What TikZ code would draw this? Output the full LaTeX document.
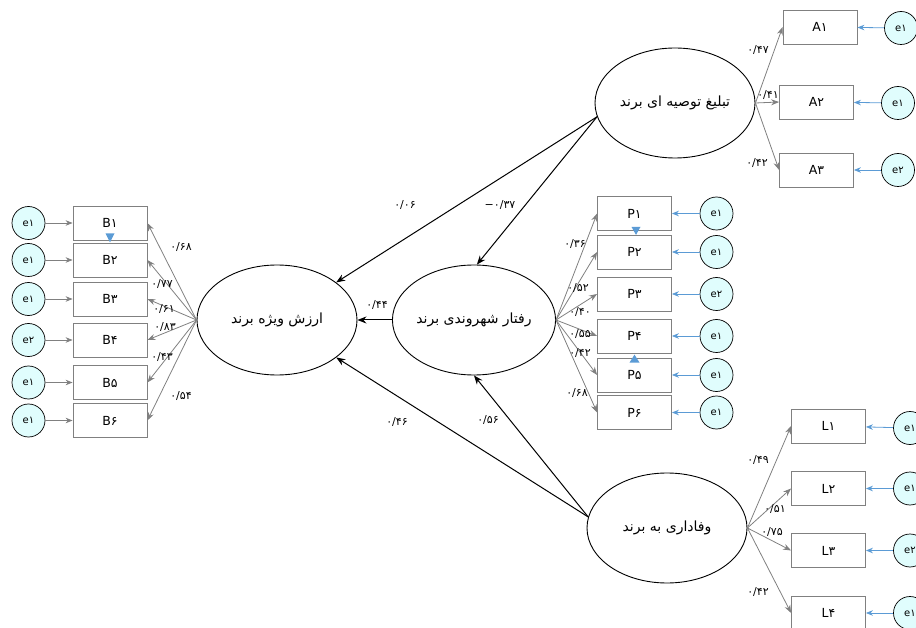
\documentclass[tikz,border=0pt]{standalone}
\usepackage{fontspec}
\setmainfont{DejaVu Sans}
\newfontfamily\fa[Script=Arabic]{DejaVu Sans}
\newfontfamily\num{DejaVu Sans}
\TeXXeTstate=1
\usetikzlibrary{arrows.meta,shapes.geometric}
\definecolor{errfill}{RGB}{224,253,253}
\definecolor{errblue}{RGB}{91,155,213}
\definecolor{arrgray}{RGB}{128,128,128}
\tikzset{
  latent/.style={ellipse, draw=black, line width=0.9pt, minimum width=160pt,
    minimum height=110pt, inner sep=0pt, font=\fa\fontsize{14}{16}\selectfont},
  ind/.style={rectangle, draw=arrgray, line width=0.8pt, minimum width=74pt,
    minimum height=34pt, inner sep=0pt, font=\num\fontsize{12.5}{14}\selectfont},
  err/.style={circle, draw=black, line width=0.7pt, fill=errfill, minimum size=33pt,
    inner sep=0pt, font=\num\fontsize{10}{12}\selectfont},
  load/.style={draw=arrgray, line width=0.8pt, -{Stealth[length=8pt,width=6pt]}},
  errl/.style={draw=arrgray, line width=0.8pt, -{Stealth[length=7pt,width=5.5pt]}},
  errr/.style={draw=errblue, line width=0.8pt, -{Stealth[length=7pt,width=5.5pt]}},
  struct/.style={draw=black, line width=1pt, -{Stealth[length=9pt,width=7pt]}},
  coef/.style={font=\num\fontsize{11}{12}\selectfont, inner sep=0pt},
  marker/.style={fill=errblue}
}
\begin{document}
\begin{tikzpicture}[x=1pt,y=-1pt]
\useasboundingbox (0,0) rectangle (916,628);
\clip (0,0) rectangle (916,628);

% latent variables
\node[latent] (ars) at (277,320) {\beginR ارزش ویژه برند\endR};
\node[latent] (rft) at (474,320) {\beginR رفتار شهروندی برند\endR};
\node[latent] (tp)  at (675,103) {\beginR تبلیغ توصیه ای برند\endR};
\node[latent] (bt)  at (667,528) {\beginR وفاداری به برند\endR};

% brand equity indicators
\node[ind] (b1) at (110,223)   {B۱};
\node[ind] (b2) at (110,260)   {B۲};
\node[ind] (b3) at (110,299)   {B۳};
\node[ind] (b4) at (110,340)   {B۴};
\node[ind] (b5) at (110,382.5) {B۵};
\node[ind] (b6) at (110,420.5) {B۶};
\node[err] (eb1) at (28.5,223)   {e۱};
\node[err] (eb2) at (28.5,260)   {e۱};
\node[err] (eb3) at (28.5,299)   {e۱};
\node[err] (eb4) at (28.5,340)   {e۲};
\node[err] (eb5) at (28.5,382.5) {e۱};
\node[err] (eb6) at (28.5,420.5) {e۱};

% citizenship behaviour indicators
\node[ind] (p1) at (634.5,213.5) {P۱};
\node[ind] (p2) at (634.5,252)   {P۲};
\node[ind] (p3) at (634.5,294)   {P۳};
\node[ind] (p4) at (634.5,336)   {P۴};
\node[ind] (p5) at (634.5,375)   {P۵};
\node[ind] (p6) at (634.5,412.5) {P۶};
\node[err] (ep1) at (716.5,213.5) {e۱};
\node[err] (ep2) at (716.5,252)   {e۱};
\node[err] (ep3) at (716.5,294)   {e۲};
\node[err] (ep4) at (716.5,336)   {e۱};
\node[err] (ep5) at (716.5,375)   {e۱};
\node[err] (ep6) at (716.5,412.5) {e۱};

% word-of-mouth indicators
\node[ind] (a1) at (820,27)    {A۱};
\node[ind] (a2) at (816.5,102) {A۲};
\node[ind] (a3) at (816.5,170) {A۳};
\node[err] (ea1) at (901,28)  {e۱};
\node[err] (ea2) at (898,103) {e۱};
\node[err] (ea3) at (898,170) {e۲};

% loyalty indicators
\node[ind] (l1) at (828.5,426)   {L۱};
\node[ind] (l2) at (828.5,488.5) {L۲};
\node[ind] (l3) at (828.5,550.5) {L۳};
\node[ind] (l4) at (828.5,613)   {L۴};
\node[err] (el1) at (910,428)   {e۱};
\node[err] (el2) at (910,488.5) {e۱};
\node[err] (el3) at (910,550.5) {e۲};
\node[err] (el4) at (910,613)   {e۱};

% loadings
\foreach \i in {1,...,6} {
  \draw[load] (ars.west) -- (b\i.east);
  \draw[errl] (eb\i) -- (b\i);
  \draw[load] (rft.east) -- (p\i.west);
  \draw[errr] (ep\i) -- (p\i);
}
\foreach \i in {1,2,3} {
  \draw[load] (tp.east) -- (a\i.west);
  \draw[errr] (ea\i) -- (a\i);
}
\foreach \i in {1,...,4} {
  \draw[load] (bt.east) -- (l\i.west);
  \draw[errr] (el\i) -- (l\i);
}

% structural paths
\draw[struct] (tp.190) -- (ars);
\draw[struct] (tp.190) -- (rft.87);
\draw[struct] (rft) -- (ars);
\draw[struct] (bt.172) -- (ars);
\draw[struct] (bt.172) -- (rft.south);

% small markers
\fill[marker] (b1.south) ++(-4.5,-7) -- ++(9,0) -- ++(-4.5,9) -- cycle;
\fill[marker] (p1.south) ++(-3,-4) -- ++(9,0) -- ++(-4.5,8) -- cycle;
\fill[marker] (p5.north) ++(0,-3) -- ++(5,8) -- ++(-10,0) -- cycle;

% coefficients
\node[coef] (c1) at (405,205) {۰/۰۶};
\node[coef] (c2) at (500,205) {−۰/۳۷};
\node[coef] (c3) at (377,305) {۰/۴۴};
\node[coef] (c4) at (397,422) {۰/۴۶};
\node[coef] (c5) at (488,420) {۰/۵۶};

\node[coef] (cb1) at (181,247) {۰/۶۸};
\node[coef] (cb2) at (162,284) {۰/۷۷};
\node[coef] (cb3) at (164,309) {۰/۶۱};
\node[coef] (cb4) at (165,327) {۰/۸۳};
\node[coef] (cb5) at (162,357) {۰/۴۳};
\node[coef] (cb6) at (181,396) {۰/۵۴};

\node[coef] (cp1) at (575,244) {۰/۳۶};
\node[coef] (cp2) at (578,288) {۰/۵۲};
\node[coef] (cp3) at (580,312) {۰/۴۰};
\node[coef] (cp4) at (580,334) {۰/۵۵};
\node[coef] (cp5) at (580,353) {۰/۴۲};
\node[coef] (cp6) at (577,393) {۰/۶۸};

\node[coef] (ca1) at (758,50)  {۰/۴۷};
\node[coef] (ca2) at (768,95)  {۰/۴۱};
\node[coef] (ca3) at (757,163) {۰/۴۲};

\node[coef] (cl1) at (758,460) {۰/۴۹};
\node[coef] (cl2) at (775,509) {۰/۵۱};
\node[coef] (cl3) at (772,532) {۰/۷۵};
\node[coef] (cl4) at (758,592) {۰/۴۲};
\end{tikzpicture}
\end{document}
